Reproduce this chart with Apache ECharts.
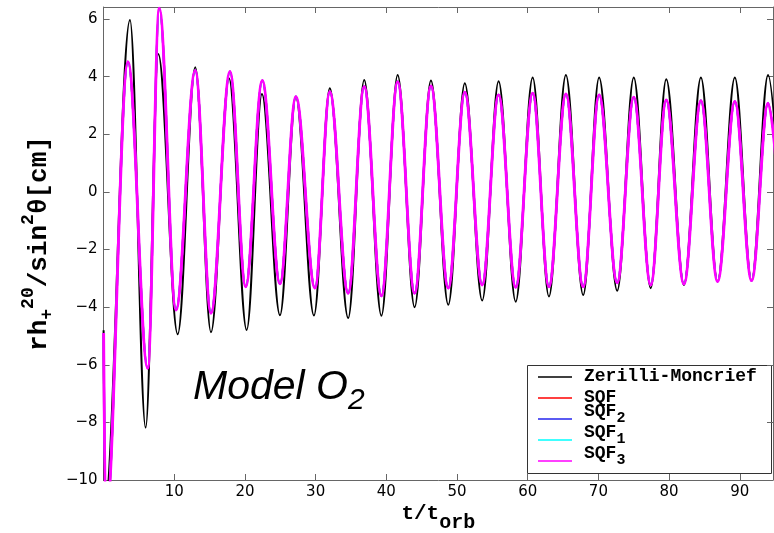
<!DOCTYPE html>
<html><head><meta charset="utf-8">
<script src="https://cdn.jsdelivr.net/npm/echarts@6/dist/echarts.min.js"></script>
<style>html,body{margin:0;padding:0;background:#fff}#c{width:774px;height:533px}</style>
</head><body><div id="c"></div>
<script>
// Extrema (peaks / troughs), t in orbits
const zmT = [0, 0.15, 3.73, 5.95, 7.74, 10.48, 12.97, 15.19, 17.74, 20.24, 22.4, 24.95, 27.2, 29.76, 32.0, 34.6, 36.87, 39.3, 41.6, 44.0, 46.31, 48.76, 51.1, 53.56, 55.88, 58.3, 60.7, 63.0, 65.4, 67.85, 70.1, 72.66, 75.0, 77.4, 79.6, 82.1, 84.5, 86.86, 89.3, 91.67, 94.0, 96.3];
const zmY = [-4.8, -11, 5.97, -8.18, 4.79, -4.94, 4.33, -4.87, 3.95, -4.79, 3.40, -4.28, 3.30, -4.29, 3.60, -4.38, 3.89, -4.30, 4.06, -4.00, 3.87, -3.92, 3.77, -3.77, 3.84, -3.81, 3.97, -3.63, 4.06, -3.58, 3.97, -3.43, 3.97, -3.34, 3.91, -3.23, 3.97, -3.11, 3.97, -3.08, 4.06, -3.05];
const sqfT = [0, 0.3, 3.45, 6.24, 7.88, 10.24, 12.97, 15.19, 17.88, 20.1, 22.45, 24.95, 27.2, 29.9, 32.0, 34.6, 36.87, 39.3, 41.6, 44.0, 46.31, 48.76, 51.1, 53.56, 55.88, 58.3, 60.7, 63.0, 65.4, 67.85, 70.1, 72.66, 75.0, 77.4, 79.6, 82.1, 84.5, 86.86, 89.3, 91.67, 94.0, 96.3];
const sqfY = [-4.9, -11.5, 4.52, -6.12, 6.38, -4.10, 4.22, -4.21, 4.18, -3.29, 3.87, -3.19, 3.31, -3.34, 3.48, -3.52, 3.66, -3.61, 3.83, -3.52, 3.68, -3.34, 3.46, -3.23, 3.37, -3.31, 3.43, -3.29, 3.40, -3.29, 3.37, -3.15, 3.29, -3.23, 3.19, -3.20, 3.17, -3.11, 3.14, -3.08, 3.08, -3.05];
// SQF, SQF2, SQF1 coincide with SQF3 at the scale of the figure
const seriesNames = ['Zerilli-Moncrief', 'SQF', 'SQF2', 'SQF1', 'SQF3'];
const legendMain = ['Zerilli-Moncrief', 'SQF', 'SQF', 'SQF', 'SQF'];
const legendSub = ['', '', '2', '1', '3'];
const seriesColors = ['#000000', '#ff0000', '#2525ee', '#00ffff', '#ff00ff'];
const xMin = 0, xMax = 94.7, xStep = 10;
const yMin = -10, yMax = 6.42, yStep = 2;

const zip = (t, y) => t.map((v, i) => [v, y[i]]);
const dataSets = [zip(zmT, zmY), zip(sqfT, sqfY), zip(sqfT, sqfY), zip(sqfT, sqfY), zip(sqfT, sqfY)];
const widths = [2, 2, 2, 2, 2.9];

const mono = 'Liberation Mono';
const axisGrey = '#666';
const chart = echarts.init(document.getElementById('c'), null, {renderer: 'canvas'});
const isTick = (v, s) => Math.abs(v / s - Math.round(v / s)) < 1e-6;

// legend drawn as a boxed key
const lgX = 527, lgY = 365, lgW = 244, lgH = 108;
const rowY = [377, 398, 419, 440, 461];
const legendEls = [{
  type: 'rect', shape: {x: lgX + 0.5, y: lgY + 0.5, width: lgW, height: lgH},
  style: {fill: '#fff', stroke: '#333', lineWidth: 1}
}];
seriesNames.forEach((n, i) => {
  legendEls.push({type: 'line', shape: {x1: 538, y1: rowY[i], x2: 572, y2: rowY[i]},
    style: {stroke: seriesColors[i], lineWidth: 1.6}});
  const hasSub = legendSub[i] !== '';
  legendEls.push({type: 'text', x: 584, y: hasSub ? rowY[i] - 8 : rowY[i] - 1,
    style: {text: legendMain[i], fontFamily: mono, fontWeight: 'bold', fontSize: 18, fill: '#000', verticalAlign: 'middle', align: 'left'}});
  if (hasSub) legendEls.push({type: 'text', x: 584 + 3 * 10.8, y: rowY[i] - 1,
    style: {text: legendSub[i], fontFamily: mono, fontWeight: 'bold', fontSize: 15, fill: '#000', verticalAlign: 'middle', align: 'left'}});
});

chart.setOption({
  animation: false,
  backgroundColor: '#fff',
  title: {
    text: '{m|Model O}{s|2}',
    left: 193, top: 367, padding: 0,
    textStyle: {
      rich: {
        m: {fontFamily: 'Liberation Sans', fontStyle: 'italic', fontWeight: 'normal', fontSize: 41, color: '#000', lineHeight: 44, height: 41, verticalAlign: 'top'},
        s: {fontFamily: 'Liberation Sans', fontStyle: 'italic', fontWeight: 'normal', fontSize: 30, color: '#000', lineHeight: 44, height: 68, verticalAlign: 'top'}
      }
    }
  },
  grid: {left: 103.6, right: 1, top: 7, bottom: 53, containLabel: false, outerBoundsMode: 'none'},
  graphic: [{type: 'group', z: 100, children: legendEls}],
  xAxis: [{
    type: 'value', min: xMin, max: xMax, interval: xStep,
    name: '{a|t/t}{b|orb}', nameLocation: 'middle', nameGap: 24, nameMoveOverlap: false,
    nameTextStyle: {rich: {
      a: {fontFamily: mono, fontWeight: 'bold', fontSize: 21, color: '#000', lineHeight: 30, height: 20, verticalAlign: 'top'},
      b: {fontFamily: mono, fontWeight: 'bold', fontSize: 20, color: '#000', lineHeight: 30, height: 38, verticalAlign: 'top'}
    }},
    axisLine: {onZero: false, lineStyle: {color: axisGrey, width: 1}},
    axisTick: {inside: true, length: 6, lineStyle: {color: axisGrey}},
    splitLine: {show: false},
    axisLabel: {margin: 5, fontFamily: 'DejaVu Sans', fontSize: 15, color: '#000',
      formatter: v => (v > 0 && v < xMax - 1 && isTick(v, xStep)) ? String(v) : ''}
  }, {
    type: 'value', min: xMin, max: xMax, interval: xStep, position: 'top',
    axisLine: {onZero: false, lineStyle: {color: axisGrey, width: 1}},
    axisTick: {inside: true, length: 6, lineStyle: {color: axisGrey}},
    splitLine: {show: false}, axisLabel: {show: false}
  }],
  yAxis: [{
    type: 'value', min: yMin, max: yMax, interval: yStep,
    name: '{a|rh}{b|+}{c|20}{a|/sin}{c|2}{a|θ[cm]}', nameLocation: 'middle', nameRotate: 90, nameGap: 42, nameMoveOverlap: false,
    nameTextStyle: {rich: {
      a: {fontFamily: mono, fontWeight: 'bold', fontSize: 26, color: '#000', lineHeight: 34, height: 24, verticalAlign: 'top'},
      b: {fontFamily: mono, fontWeight: 'bold', fontSize: 18, color: '#000', lineHeight: 34, height: 40, verticalAlign: 'top'},
      c: {fontFamily: mono, fontWeight: 'bold', fontSize: 18, color: '#000', lineHeight: 34, height: 2, verticalAlign: 'top'}
    }},
    axisLine: {onZero: false, lineStyle: {color: axisGrey, width: 1}},
    axisTick: {inside: true, length: 6, lineStyle: {color: axisGrey}},
    splitLine: {show: false},
    axisLabel: {margin: 6, fontFamily: 'DejaVu Sans', fontSize: 15, color: '#000',
      formatter: v => isTick(v, yStep) ? String(Math.round(v)).replace('-', '\u2212') : ''}
  }, {
    type: 'value', min: yMin, max: yMax, interval: yStep, position: 'right',
    axisLine: {onZero: false, lineStyle: {color: axisGrey, width: 1}},
    axisTick: {inside: true, length: 6, lineStyle: {color: axisGrey}},
    splitLine: {show: false}, axisLabel: {show: false}
  }],
  series: seriesNames.map((name, i) => ({
    name, type: 'line', data: dataSets[i],
    xAxisIndex: 0, yAxisIndex: 0,
    showSymbol: false, symbol: 'none',
    smooth: 0.36, smoothMonotone: 'x',
    clip: true,
    color: seriesColors[i],
    lineStyle: {color: seriesColors[i], width: widths[i]},
    emphasis: {disabled: true},
    z: 2 + i
  }))
});
</script></body></html>
